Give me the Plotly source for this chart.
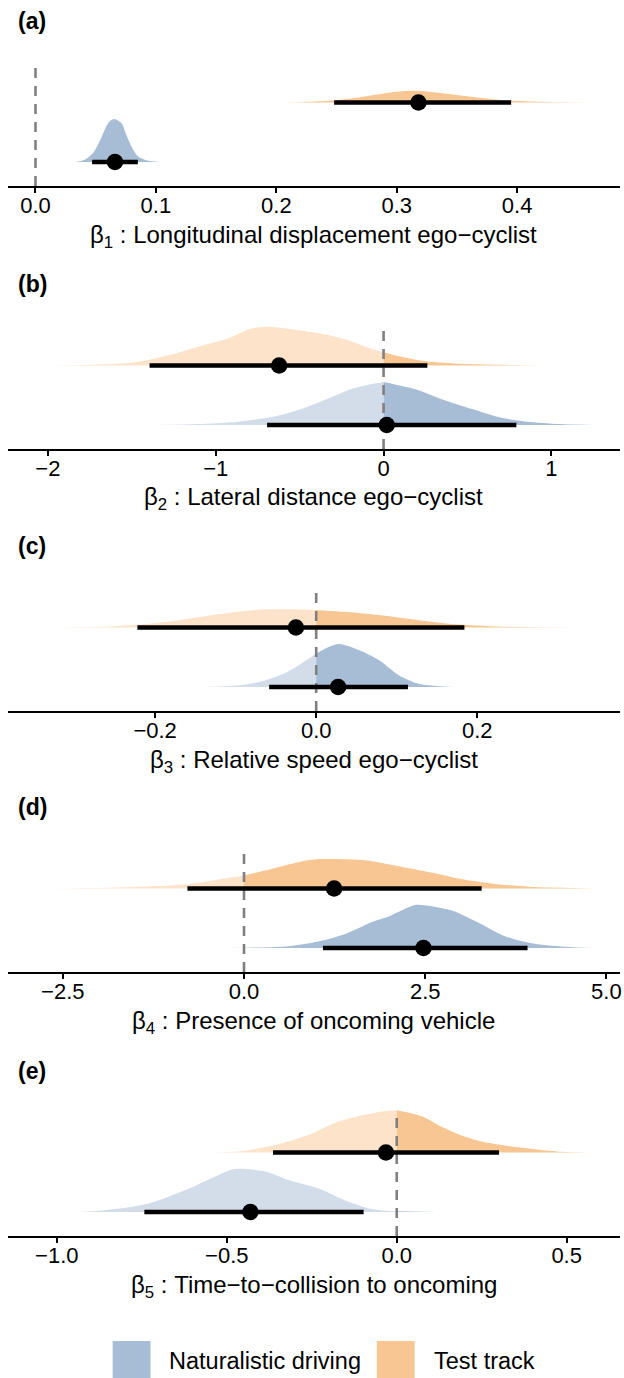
import plotly.graph_objects as go

# ---------------- data ----------------
groups = ["Naturalistic driving", "Test track"]
panel_tags = ["(a)", "(b)", "(c)", "(d)", "(e)"]
axis_titles = [
    "β<sub>1</sub> : Longitudinal displacement ego−cyclist",
    "β<sub>2</sub> : Lateral distance ego−cyclist",
    "β<sub>3</sub> : Relative speed ego−cyclist",
    "β<sub>4</sub> : Presence of oncoming vehicle",
    "β<sub>5</sub> : Time−to−collision to oncoming",
]

# posterior density profiles (x, relative density) per panel and group
a_nat_x = [0.0326, 0.0409, 0.0478, 0.0533, 0.0575, 0.0616, 0.0657, 0.0713, 0.0754, 0.0796, 0.0850, 0.0920, 0.1030]
a_nat_d = [0, 2.3, 9, 20.7, 32.3, 40.7, 43, 39, 27.3, 15.7, 5.7, 1.7, 0]
a_test_x = [0.194, 0.222, 0.2465, 0.265, 0.2824, 0.3017, 0.3155, 0.3375, 0.365, 0.3927, 0.420, 0.4614]
a_test_d = [0, 0.6, 2, 4.5, 7.7, 11, 11.7, 9.3, 5.3, 2, 0.7, 0]

b_nat_x = [-1.435, -1.138, -0.910, -0.659, -0.522, -0.339, -0.179, 0, 0.209, 0.346, 0.529, 0.689, 0.871, 1.077, 1.259]
b_nat_d = [0, 0.7, 2.7, 8.3, 14.3, 26, 37, 43.3, 35, 26, 16, 7.7, 3, 0.7, 0]
b_test_x = [-2.075, -1.71, -1.481, -1.253, -1.070, -0.933, -0.796, -0.704, -0.568, -0.339, -0.202, -0.088, 0, 0.118, 0.255, 0.460, 0.689, 1.054]
b_test_d = [0, 1, 3.3, 11.7, 20.7, 26.7, 36.7, 39, 37, 31, 25, 17.7, 13.3, 8.3, 4.3, 1.7, 0.7, 0]

c_nat_x = [-0.1426, -0.105, -0.0708, -0.036, 0, 0.0272, 0.053, 0.0777, 0.1025, 0.127, 0.172]
c_nat_d = [0, 1, 5, 15, 33.3, 42.7, 36.7, 26.7, 11.7, 3.3, 0]
c_test_x = [-0.353, -0.269, -0.219, -0.170, -0.120, -0.0856, -0.056, -0.031, 0, 0.038, 0.0777, 0.127, 0.177, 0.241, 0.345]
c_test_d = [0, 0.7, 3, 7.3, 13.3, 16.7, 18, 18, 17.3, 15.3, 12.3, 7.3, 3, 0.7, 0]

d_nat_x = [-0.289, 0, 0.611, 1.087, 1.404, 1.775, 1.986, 2.358, 2.516, 2.886, 3.256, 3.574, 3.944, 4.421, 4.843]
d_nat_d = [0, 0.3, 1.7, 7.3, 14, 25.7, 30.7, 42.3, 41.7, 36.3, 24, 12.3, 5, 1.3, 0]
d_test_x = [-2.88, -1.769, -0.817, -0.447, 0, 0.347, 0.876, 1.140, 1.670, 2.198, 2.622, 2.992, 3.415, 3.944, 4.843]
d_test_d = [0, 1, 4, 7.7, 12.7, 18.7, 27.7, 29, 27.7, 21, 15.3, 9.3, 5, 1.7, 0]

e_nat_x = [-1.063, -0.883, -0.736, -0.623, -0.545, -0.477, -0.387, -0.319, -0.229, -0.150, -0.071, 0, 0.121]
e_nat_d = [0, 1, 7.7, 21, 32.7, 41.7, 39.3, 31, 22.7, 11, 2.7, 0.7, 0]
e_test_x = [-0.612, -0.477, -0.364, -0.251, -0.172, -0.093, -0.037, 0, 0.0757, 0.132, 0.189, 0.245, 0.358, 0.471, 0.583]
e_test_d = [0, 0.7, 6.7, 18.3, 30, 36.7, 40, 41, 35, 25, 16.7, 11, 5, 1, 0]

# point intervals: [lower, median, upper]
a_nat_qi = [0.047, 0.066, 0.085]
a_test_qi = [0.248, 0.318, 0.395]
b_nat_qi = [-0.694, 0.019, 0.791]
b_test_qi = [-1.394, -0.622, 0.261]
c_nat_qi = [-0.0584, 0.0272, 0.1139]
c_test_qi = [-0.222, -0.0252, 0.184]
d_nat_qi = [1.089, 2.476, 3.912]
d_test_qi = [-0.781, 1.243, 3.279]
e_nat_qi = [-0.7425, -0.4305, -0.0974]
e_test_qi = [-0.364, -0.0317, 0.301]

# tick values
a_ticks = [0.0, 0.1, 0.2, 0.3, 0.4]
b_ticks = [-2, -1, 0, 1]
c_ticks = [-0.2, 0.0, 0.2]
d_ticks = [-2.5, 0.0, 2.5, 5.0]
e_ticks = [-1.0, -0.5, 0.0, 0.5]

# ---------------- styling / layout ----------------
W, H = 624, 1378
FONT = "Liberation Sans, Arial, Helvetica, sans-serif"
DARK = {"Naturalistic driving": "#A7BCD5", "Test track": "#F8C692"}
LIGHT = {"Naturalistic driving": "#D3DDEA", "Test track": "#FCE3CA"}
BASE = {"Naturalistic driving": 1, "Test track": 2}

panels = [
    dict(nat=(a_nat_x, a_nat_d), test=(a_test_x, a_test_d), nqi=a_nat_qi, tqi=a_test_qi,
         ticks=a_ticks, fmt=".1f", xr=[-0.02285, 0.4854]),
    dict(nat=(b_nat_x, b_nat_d), test=(b_test_x, b_test_d), nqi=b_nat_qi, tqi=b_test_qi,
         ticks=b_ticks, fmt="d", xr=[-2.2375, 1.4086]),
    dict(nat=(c_nat_x, c_nat_d), test=(c_test_x, c_test_d), nqi=c_nat_qi, tqi=c_test_qi,
         ticks=c_ticks, fmt=".1f", xr=[-0.3827, 0.3772]),
    dict(nat=(d_nat_x, d_nat_d), test=(d_test_x, d_test_d), nqi=d_nat_qi, tqi=d_test_qi,
         ticks=d_ticks, fmt=".1f", xr=[-3.257, 5.188]),
    dict(nat=(e_nat_x, e_nat_d), test=(e_test_x, e_test_d), nqi=e_nat_qi, tqi=e_test_qi,
         ticks=e_ticks, fmt=".1f", xr=[-1.1437, 0.6569]),
]

AXIS_PX = [186, 449, 711, 972, 1236]   # pixel row of each x axis line
PANEL_H = 126
ROW_SP = 59.5
NAT_OFF = 24
X0, X1 = 8, 622
SLAB = 43 / ROW_SP  # max slab thickness in row units
Y_LO = 1 - NAT_OFF / ROW_SP
Y_HI = Y_LO + PANEL_H / ROW_SP

fig = go.Figure()
layout = dict(
    width=W, height=H, autosize=False,
    margin=dict(l=0, r=0, t=0, b=0, pad=0),
    paper_bgcolor="white", plot_bgcolor="white",
    showlegend=False,
    font=dict(family=FONT, color="black"),
)
annotations = []
shapes = []


def add_slab(xs, ds, base, pmax, group, xa, ya):
    thick = [base + d / pmax * SLAB for d in ds]
    left = [(x, t) for x, t in zip(xs, thick) if x <= 0]
    right = [(x, t) for x, t in zip(xs, thick) if x >= 0]
    for part, col in ((left, LIGHT[group]), (right, DARK[group])):
        if len(part) < 2:
            continue
        px = [p[0] for p in part]
        py = [p[1] for p in part]
        fig.add_trace(go.Scatter(x=[px[0], px[-1]], y=[base, base], mode="lines",
                                 line=dict(width=0, color=col), hoverinfo="skip",
                                 xaxis=xa, yaxis=ya))
        fig.add_trace(go.Scatter(x=px, y=py, mode="lines", fill="tonexty", fillcolor=col,
                                 line=dict(width=0, color=col, shape="spline", smoothing=0.8),
                                 hoverinfo="skip", xaxis=xa, yaxis=ya))


for i, p in enumerate(panels):
    k = "" if i == 0 else str(i + 1)
    xa, ya = "x" + k, "y" + k
    axis_px = AXIS_PX[i]
    ybot = 1 - axis_px / H
    ytop = 1 - (axis_px - PANEL_H) / H
    pmax = max(max(p["nat"][1]), max(p["test"][1]))

    add_slab(p["nat"][0], p["nat"][1], BASE["Naturalistic driving"], pmax, "Naturalistic driving", xa, ya)
    add_slab(p["test"][0], p["test"][1], BASE["Test track"], pmax, "Test track", xa, ya)

    # reference line at zero
    fig.add_trace(go.Scatter(x=[0, 0], y=[Y_LO, Y_HI], mode="lines",
                             line=dict(color="#808080", width=2.6, dash="10px,8px"),
                             hoverinfo="skip", xaxis=xa, yaxis=ya))

    for qi, group in ((p["nqi"], "Naturalistic driving"), (p["tqi"], "Test track")):
        b = BASE[group]
        fig.add_trace(go.Scatter(x=[qi[0], qi[2]], y=[b, b], mode="lines",
                                 line=dict(color="black", width=4.5), hoverinfo="skip",
                                 xaxis=xa, yaxis=ya))
        fig.add_trace(go.Scatter(x=[qi[1]], y=[b], mode="markers",
                                 marker=dict(color="black", size=16.5, line=dict(width=0)),
                                 hoverinfo="skip", xaxis=xa, yaxis=ya))

    layout["xaxis" + k] = dict(
        domain=[X0 / W, X1 / W], range=p["xr"], anchor=ya,
        showline=True, linecolor="black", linewidth=2,
        ticks="outside", ticklen=5, tickwidth=2, tickcolor="black",
        tickvals=p["ticks"], tickformat=p["fmt"], ticklabelstandoff=-6,
        tickfont=dict(size=22, color="black", family=FONT),
        showgrid=False, zeroline=False, fixedrange=True,
    )
    layout["yaxis" + k] = dict(domain=[ybot, ytop], range=[Y_LO, Y_HI], anchor=xa,
                               visible=False, fixedrange=True)

    annotations.append(dict(text="<b>%s</b>" % panel_tags[i], xref="paper", yref="paper",
                            x=16 / W, y=1 - (axis_px - 165) / H, xanchor="left", yanchor="middle",
                            showarrow=False, font=dict(size=23, color="black", family=FONT)))
    annotations.append(dict(text=axis_titles[i], xref="paper", yref="paper",
                            x=315 / W, y=1 - (axis_px + 50) / H, xanchor="center", yanchor="middle",
                            showarrow=False, font=dict(size=24, color="black", family=FONT)))

# legend
leg = [("Naturalistic driving", 113, 168), ("Test track", 378, 433)]
for g, kx, tx in leg:
    shapes.append(dict(type="rect", xref="paper", yref="paper",
                       x0=kx / W, x1=(kx + 38) / W, y0=1 - 1378 / H, y1=1 - 1341 / H,
                       fillcolor=DARK[g], line=dict(width=0)))
    annotations.append(dict(text=g, xref="paper", yref="paper", x=tx / W, y=1 - 1361 / H,
                            xanchor="left", yanchor="middle", showarrow=False,
                            font=dict(size=23.5, color="black", family=FONT)))

layout["annotations"] = annotations
layout["shapes"] = shapes
fig.update_layout(**layout)
fig.write_html("out.html")
